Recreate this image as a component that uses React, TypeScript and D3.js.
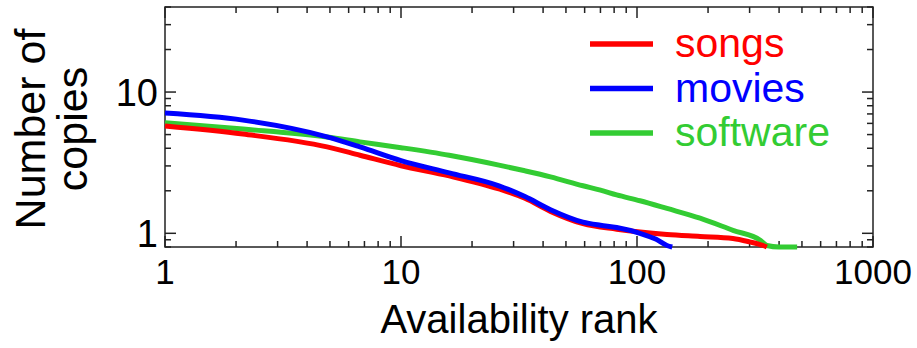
import { useEffect, useRef } from "react";
import * as d3 from "d3";

const width = 917;
const height = 348;
const plot = { left: 165, right: 873, top: 7, bottom: 247 };

// availability rank (x) and number of copies (y)
const songsRank = [1, 2.14, 4.86, 6.7, 10, 16, 26, 33.5, 43, 59, 82, 103, 134, 185, 255, 300, 342, 355];
const songsCopies = [5.74, 5.04, 4.09, 3.57, 3.01, 2.55, 2.06, 1.77, 1.43, 1.17, 1.07, 1.02, 0.98, 0.95, 0.92, 0.87, 0.82, 0.8];

const moviesRank = [1, 2.14, 4.86, 6.7, 10, 16, 26, 33.5, 43, 59, 70, 82, 103, 120, 134, 141];
const moviesCopies = [7.1, 6.33, 4.82, 4.09, 3.27, 2.68, 2.17, 1.82, 1.47, 1.2, 1.14, 1.1, 1.0, 0.91, 0.82, 0.8];

const softwareRank = [1, 2.14, 4.86, 6.7, 10, 16, 26, 33.5, 43, 59, 70, 82, 103, 134, 185, 255, 334, 355, 400, 477];
const softwareCopies = [6.06, 5.47, 4.8, 4.44, 4.04, 3.57, 3.04, 2.77, 2.51, 2.17, 2.02, 1.87, 1.7, 1.5, 1.28, 1.05, 0.89, 0.82, 0.8, 0.8];

const seriesNames = ["songs", "movies", "software"];
const seriesColors = ["#ff0000", "#0000ff", "#33cc33"];

const xTickLabels = [1, 10, 100, 1000];
const yTickLabels = [1, 10];

type Point = { rank: number; copies: number };

export default function App() {
  const svgRef = useRef<SVGSVGElement | null>(null);

  useEffect(() => {
    document.body.style.margin = "0";
    if (!svgRef.current) return;

    const svg = d3.select(svgRef.current);
    svg.selectAll("*").remove();

    const x = d3.scaleLog().domain([1, 1000]).range([plot.left, plot.right]);
    const y = d3.scaleLog().domain([0.8, 40]).range([plot.bottom, plot.top]);

    const font = "'Liberation Sans', Arial, sans-serif";
    const isMajor = (v: number) => Math.abs(Math.log10(v) - Math.round(Math.log10(v))) < 1e-9;

    // ticks, pointing inward on every side
    const ticks = svg.append("g").attr("stroke", "#222").attr("stroke-width", 1.5);

    x.ticks().forEach((v) => {
      const len = isMajor(v) ? 11 : 6;
      ticks.append("line").attr("x1", x(v)).attr("x2", x(v)).attr("y1", plot.bottom).attr("y2", plot.bottom - len);
      ticks.append("line").attr("x1", x(v)).attr("x2", x(v)).attr("y1", plot.top).attr("y2", plot.top + len);
    });

    y.ticks().forEach((v) => {
      const len = isMajor(v) ? 11 : 6;
      ticks.append("line").attr("y1", y(v)).attr("y2", y(v)).attr("x1", plot.left).attr("x2", plot.left + len);
      ticks.append("line").attr("y1", y(v)).attr("y2", y(v)).attr("x1", plot.right).attr("x2", plot.right - len);
    });

    // box
    svg
      .append("rect")
      .attr("x", plot.left)
      .attr("y", plot.top)
      .attr("width", plot.right - plot.left)
      .attr("height", plot.bottom - plot.top)
      .attr("fill", "none")
      .attr("stroke", "#222")
      .attr("stroke-width", 1.5);

    // curves
    const series: Point[][] = [
      songsRank.map((r, i) => ({ rank: r, copies: songsCopies[i] })),
      moviesRank.map((r, i) => ({ rank: r, copies: moviesCopies[i] })),
      softwareRank.map((r, i) => ({ rank: r, copies: softwareCopies[i] })),
    ];

    const line = d3
      .line<Point>()
      .x((d) => x(d.rank))
      .y((d) => y(d.copies))
      .curve(d3.curveMonotoneX);

    // green first so red and blue sit on top like the original
    [2, 0, 1].forEach((i) => {
      svg
        .append("path")
        .attr("d", line(series[i]))
        .attr("fill", "none")
        .attr("stroke", seriesColors[i])
        .attr("stroke-width", 5)
        .attr("stroke-linejoin", "round");
    });

    // tick labels
    svg
      .append("g")
      .selectAll("text")
      .data(xTickLabels)
      .join("text")
      .attr("x", (d) => x(d))
      .attr("y", 284)
      .attr("text-anchor", "middle")
      .style("font-family", font)
      .style("font-size", "35px")
      .text((d) => String(d));

    svg
      .append("g")
      .selectAll("text")
      .data(yTickLabels)
      .join("text")
      .attr("x", 158)
      .attr("y", (d) => y(d))
      .attr("dy", "0.36em")
      .attr("text-anchor", "end")
      .style("font-family", font)
      .style("font-size", "38px")
      .text((d) => String(d));

    // axis titles
    svg
      .append("text")
      .attr("x", (plot.left + plot.right) / 2)
      .attr("y", 333)
      .attr("text-anchor", "middle")
      .style("font-family", font)
      .style("font-size", "40px")
      .text("Availability rank");

    [
      { text: "Number of", bx: 45 },
      { text: "copies", bx: 87 },
    ].forEach((l) => {
      svg
        .append("text")
        .attr("transform", `translate(${l.bx}, 129) rotate(-90)`)
        .attr("text-anchor", "middle")
        .style("font-family", font)
        .style("font-size", "43px")
        .text(l.text);
    });

    // legend
    const legend = svg.append("g");
    seriesNames.forEach((name, i) => {
      const ly = 44 + i * 44.5;
      legend
        .append("line")
        .attr("x1", 590)
        .attr("x2", 653)
        .attr("y1", ly)
        .attr("y2", ly)
        .attr("stroke", seriesColors[i])
        .attr("stroke-width", 5.5);
      legend
        .append("text")
        .attr("x", 675)
        .attr("y", ly + 13)
        .attr("fill", seriesColors[i])
        .style("font-family", font)
        .style("font-size", "41px")
        .text(name);
    });
  }, []);

  return <svg ref={svgRef} width={width} height={height} style={{ display: "block", background: "#fff" }} />;
}
